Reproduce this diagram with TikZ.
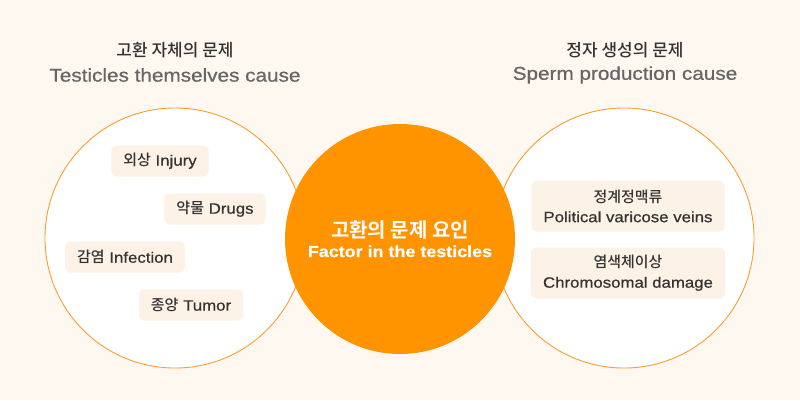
\documentclass[tikz,border=0pt]{standalone}
\usepackage{fontspec}
\setmainfont{Liberation Sans}[FakeStretch=1.12,FakeBold=0.6]
\newfontfamily\krfont{Noto Sans CJK KR Medium}[BoldFont={Noto Sans CJK KR Bold}]
\usetikzlibrary{positioning}
\definecolor{pcream}{HTML}{FFF8F0}
\definecolor{ptag}{HTML}{FCF2E6}
\definecolor{porange}{HTML}{FF9300}
\definecolor{pring}{HTML}{F7A030}
\definecolor{ptext}{HTML}{333333}
\definecolor{pgray}{HTML}{666666}
\tikzset{
  ring/.style={
    circle, draw=pring, line width=0.9pt, fill=white,
    minimum size=260pt, inner sep=0pt
  },
  core/.style={
    circle, fill=porange, minimum size=230pt, inner sep=0pt,
    text=white, align=center
  },
  tag/.style={
    fill=ptag, rounded corners=5pt, text=ptext, inner xsep=12pt,
    minimum height=31pt, font=\fontsize{15}{17}\selectfont
  },
  tagwide/.style={
    tag, minimum width=190pt, minimum height=51pt, align=center,
    font=\fontsize{15}{20}\selectfont
  },
  head/.style={font=\fontsize{17}{20}\selectfont\krfont, text=ptext},
  sub/.style={font=\fontsize{18.5}{22}\selectfont, text=pgray}
}

\begin{document}
\begin{tikzpicture}[x=1pt,y=-1pt]
  \fill[pcream] (0,0) rectangle (800,400);
  \useasboundingbox (0,0) rectangle (800,400);

  % headings
  \node[head] (lhead) at (175,50) {고환 자체의 문제};
  \node[sub]  (lsub)  at (175,75) {Testicles themselves cause};
  \node[head] (rhead) at (625,50) {정자 생성의 문제};
  \node[sub]  (rsub)  at (625,75) {Sperm production cause};

  % circles
  \node[ring] (lring) at (175,238) {};
  \node[ring] (rring) at (624,238) {};
  \node[core] (core) at (400,239)
    {{\krfont\bfseries\fontsize{20}{23}\selectfont 고환의 문제 요인}\\[5pt]
     {\bfseries\fontsize{16}{19}\selectfont Factor in the testicles}};

  % left causes
  \node[tag] (injury)    at (160,161) {{\krfont 외상} Injury};
  \node[tag] (drugs)     at (215,209) {{\krfont 약물} Drugs};
  \node[tag] (infection) at (125,257) {{\krfont 감염} Infection};
  \node[tag] (tumor)     at (191,305) {{\krfont 종양} Tumor};

  % right causes
  \node[tagwide] (veins) at (628,206)
    {{\krfont 정계정맥류}\\Political varicose veins};
  \node[tagwide] (chromo) at (628,273)
    {{\krfont 염색체이상}\\Chromosomal damage};
\end{tikzpicture}
\end{document}
